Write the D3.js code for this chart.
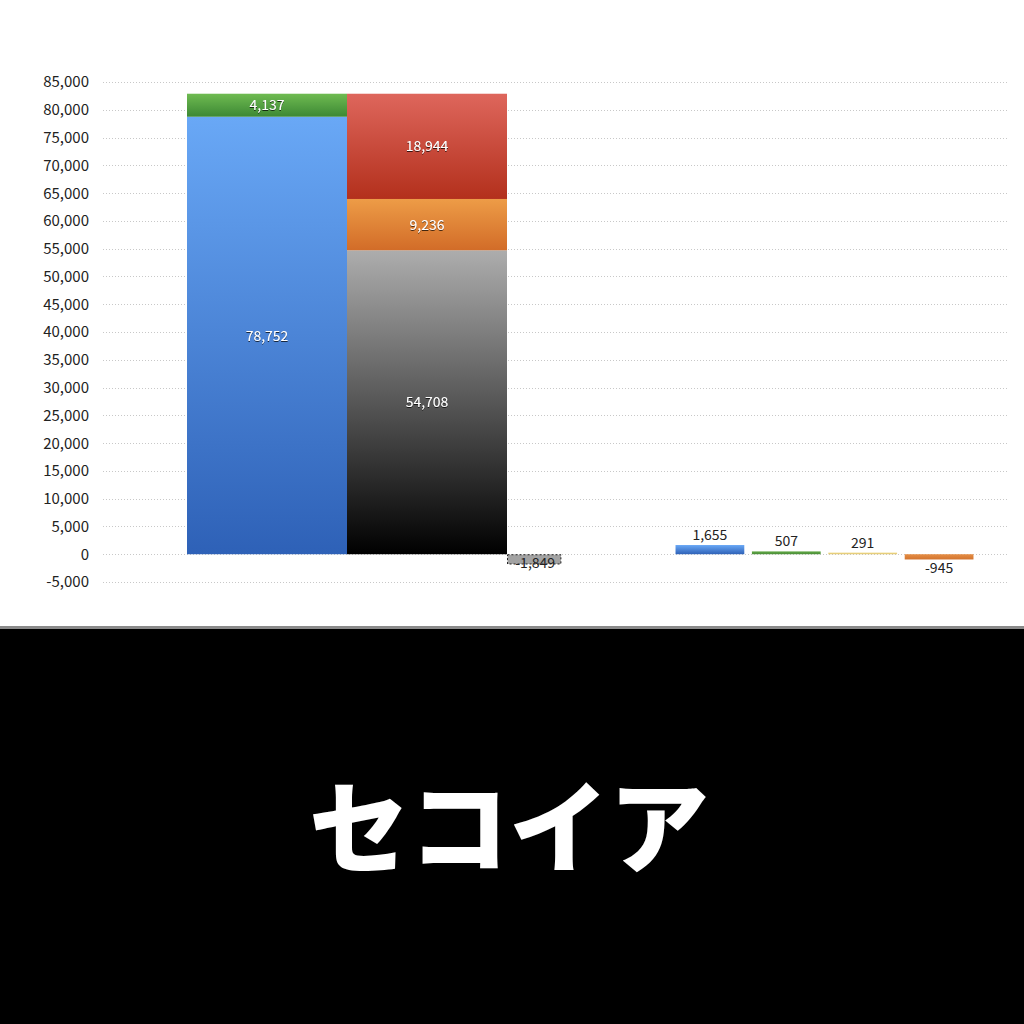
<!DOCTYPE html>
<html>
<head>
<meta charset="utf-8">
<script src="https://cdn.jsdelivr.net/npm/d3@7.9.0/dist/d3.min.js"></script>
<style>
  html, body { margin: 0; padding: 0; background: #fff; }
  svg { display: block; }
  .tick-label { font-family: "Noto Sans CJK JP", "Noto Sans", sans-serif; font-size: 15px; fill: #222; }
  .in-label { font-family: "Noto Sans CJK JP", "Noto Sans", sans-serif; font-size: 14px; fill: #fff; }
  .out-label { font-family: "Noto Sans CJK JP", "Noto Sans", sans-serif; font-size: 14px; fill: #222; }
</style>
</head>
<body>
<svg id="chart" width="1024" height="1024"></svg>
<script>
// tick values on the y axis
const yTicks = [-5000, 0, 5000, 10000, 15000, 20000, 25000, 30000, 35000, 40000,
                45000, 50000, 55000, 60000, 65000, 70000, 75000, 80000, 85000];

// big stacked columns (bottom to top)
const bigColumns = ['left', 'right'];
const leftSegments  = [78752, 4137];
const rightSegments = [54708, 9236, 18944];
const leftGrads  = ['blue', 'green'];
const rightGrads = ['mono', 'orange', 'red'];

// the narrow dashed column next to the stack
const adjustValue = -1849;

// small columns on the right
const smallCats   = ['a', 'b', 'c', 'd'];
const smallValues = [1655, 507, 291, -945];
const smallGrads  = ['blue', 'green2', 'yellow', 'orange2'];

const title = 'セコイア';

const W = 1024, H = 1024;
const svg = d3.select('#chart');
const fmt = d3.formatLocale({ decimal: '.', thousands: ',', grouping: [3], currency: ['', ''], minus: '-' }).format(',');

const gradStops = {
  blue:    ['#69a8f6', '#2e61b7'],
  green:   ['#6fbb51', '#3c8834'],
  red:     ['#de665c', '#b3301c'],
  orange:  ['#ed9c47', '#d26c28'],
  mono:    ['#adadad', '#000000'],
  green2:  ['#62a946', '#4a8d37'],
  yellow:  ['#f0db8c', '#e0c46c'],
  orange2: ['#e68e45', '#d2742f']
};

const defs = svg.append('defs');
Object.entries(gradStops).forEach(([id, [top, bot]]) => {
  const g = defs.append('linearGradient').attr('id', 'g-' + id)
    .attr('x1', 0).attr('y1', 0).attr('x2', 0).attr('y2', 1);
  g.append('stop').attr('offset', '0%').attr('stop-color', top);
  g.append('stop').attr('offset', '100%').attr('stop-color', bot);
});
const shadow = defs.append('filter').attr('id', 'txtshadow')
  .attr('x', '-20%').attr('y', '-20%').attr('width', '140%').attr('height', '140%');
shadow.append('feDropShadow').attr('dx', 0).attr('dy', 1).attr('stdDeviation', 0.6)
  .attr('flood-color', '#000').attr('flood-opacity', 0.7);

const y = d3.scaleLinear().domain([-5000, 85000]).range([582, 82]);
const plotLeft = 103, plotRight = 1007;

// gridlines
svg.append('g').selectAll('line').data(yTicks).join('line')
  .attr('x1', plotLeft).attr('x2', plotRight)
  .attr('y1', d => Math.round(y(d)) + 0.5).attr('y2', d => Math.round(y(d)) + 0.5)
  .attr('stroke', '#c8c8c8').attr('stroke-width', 1).attr('stroke-dasharray', '1,2');

// y labels
svg.append('g').selectAll('text').data(yTicks).join('text')
  .attr('class', 'tick-label')
  .attr('x', 89).attr('y', d => y(d))
  .attr('dy', '0.36em').attr('text-anchor', 'end')
  .text(d => fmt(d));

// big stacked columns
const xBig = d3.scaleBand().domain(bigColumns).range([187, 507]).padding(0);
function stackUp(vals, grads, col) {
  let acc = 0;
  return vals.map((v, i) => {
    const s = { col, v, grad: grads[i], y0: acc, y1: acc + v };
    acc += v;
    return s;
  });
}
const bigSegs = [...stackUp(leftSegments, leftGrads, 'left'),
                 ...stackUp(rightSegments, rightGrads, 'right')];

svg.append('g').selectAll('rect').data(bigSegs).join('rect')
  .attr('x', d => xBig(d.col))
  .attr('width', xBig.bandwidth())
  .attr('y', d => y(d.y1))
  .attr('height', d => y(d.y0) - y(d.y1))
  .attr('fill', d => `url(#g-${d.grad})`);

svg.append('g').selectAll('text').data(bigSegs).join('text')
  .attr('class', 'in-label')
  .attr('filter', 'url(#txtshadow)')
  .attr('x', d => xBig(d.col) + xBig.bandwidth() / 2)
  .attr('y', d => (y(d.y0) + y(d.y1)) / 2)
  .attr('dy', '0.36em').attr('text-anchor', 'middle')
  .text(d => fmt(d.v));

// dashed adjustment column
const adjX = xBig('right') + xBig.bandwidth();
const adjW = xBig.bandwidth() * 0.34;
svg.append('rect')
  .attr('x', adjX + 0.5).attr('width', adjW - 1)
  .attr('y', y(0) + 0.5).attr('height', y(adjustValue) - y(0) - 1)
  .attr('fill', '#a2a2a2').attr('stroke', '#222').attr('stroke-width', 1)
  .attr('stroke-dasharray', '2,2');
svg.append('text').attr('class', 'out-label')
  .attr('x', adjX + adjW / 2 + 1).attr('y', y(adjustValue) + 4)
  .attr('text-anchor', 'middle')
  .text(fmt(adjustValue));

// small columns
const xSmall = d3.scaleBand().domain(smallCats).range([674, 975]).paddingInner(0.1).paddingOuter(0.02);
const smallData = smallCats.map((c, i) => ({ c, v: smallValues[i], grad: smallGrads[i] }));
svg.append('g').selectAll('rect').data(smallData).join('rect')
  .attr('x', d => xSmall(d.c))
  .attr('width', xSmall.bandwidth())
  .attr('y', d => y(Math.max(0, d.v)))
  .attr('height', d => Math.max(1, Math.abs(y(d.v) - y(0))))
  .attr('fill', d => `url(#g-${d.grad})`);
svg.append('g').selectAll('text').data(smallData).join('text')
  .attr('class', 'out-label')
  .attr('x', d => xSmall(d.c) + xSmall.bandwidth() / 2)
  .attr('y', d => d.v >= 0 ? y(d.v) - 5 : y(d.v) + 14)
  .attr('text-anchor', 'middle')
  .text(d => fmt(d.v));

// lower black panel with title
svg.append('rect').attr('x', 0).attr('y', 626).attr('width', W).attr('height', 3).attr('fill', '#8a8a8a');
svg.append('rect').attr('x', 0).attr('y', 629).attr('width', W).attr('height', H - 629).attr('fill', '#000');
svg.append('text')
  .attr('x', W / 2 - 3).attr('y', 829)
  .attr('dy', '0.36em')
  .attr('text-anchor', 'middle')
  .attr('fill', '#fff')
  .style('font-family', '"Noto Sans CJK JP", sans-serif')
  .style('font-weight', 900)
  .style('font-size', '100px')
  .text(title);
</script>
</body>
</html>
